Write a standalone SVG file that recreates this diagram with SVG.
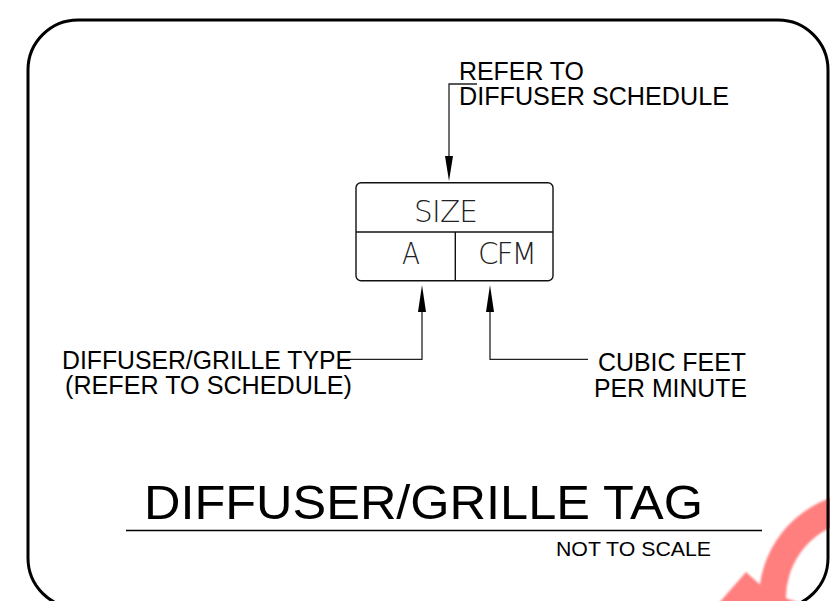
<svg xmlns="http://www.w3.org/2000/svg" width="830" height="601" viewBox="0 0 830 601">
<style>
.lbl{font-family:"Liberation Sans",Arial,sans-serif;font-size:25px;fill:#000}
.box{font-family:"DejaVu Sans ExtraLight","DejaVu Sans","Liberation Sans",sans-serif;font-weight:200;font-size:29.5px;fill:#222}
.ld{fill:none;stroke:#222;stroke-width:1.3}
.ah{fill:#000}
</style>
<defs>
<filter id="soft" x="-10%" y="-10%" width="120%" height="120%"><feGaussianBlur stdDeviation="0.8"/></filter>
</defs>
<rect width="830" height="601" fill="#fff"/>
<g id="watermark" filter="url(#soft)" fill="#ff7f7f" stroke="none">
<path d="M 845 494 A 107 107 0 0 0 759 603 L 786 603 A 79 79 0 0 1 845 522 Z"/>
<polygon points="719,603 746,572 768,592 800,603"/>
</g>
<rect id="frame" x="28" y="20" width="800" height="588" rx="50" ry="50" fill="none" stroke="#000" stroke-width="3"/>
<g id="tag">
<rect x="356" y="182.7" width="197" height="98" rx="5" ry="5" fill="none" stroke="#111" stroke-width="1.4"/>
<line x1="356" y1="232" x2="553" y2="232" stroke="#111" stroke-width="1.4"/>
<line x1="455.3" y1="232" x2="455.3" y2="280.7" stroke="#111" stroke-width="1.4"/>
<text class="box" x="414" y="221.7" textLength="64" lengthAdjust="spacing">SIZE</text>
<text class="box" x="402" y="264" textLength="18" lengthAdjust="spacingAndGlyphs">A</text>
<text class="box" x="478" y="264" textLength="59" lengthAdjust="spacing">CFM</text>
</g>
<g id="connectors">
<polyline class="ld" points="477,84 449,84 449,160"/>
<polygon class="ah" points="445,156 453,156 449,181"/>
<polyline class="ld" points="340,359.3 422,359.3 422,308"/>
<polygon class="ah" points="418,312 426,312 422,285"/>
<polyline class="ld" points="588,359.3 490,359.3 490,308"/>
<polygon class="ah" points="486,312 494,312 490,285"/>
<line x1="126" y1="530.5" x2="762" y2="530.5" stroke="#000" stroke-width="1.4"/>
</g>
<g id="label-schedule">
<text class="lbl" x="459" y="80" textLength="125" lengthAdjust="spacingAndGlyphs">REFER TO</text>
<text class="lbl" x="459" y="105" textLength="270" lengthAdjust="spacingAndGlyphs">DIFFUSER SCHEDULE</text>
</g>
<g id="label-type">
<text class="lbl" x="62" y="369" textLength="290" lengthAdjust="spacingAndGlyphs">DIFFUSER/GRILLE TYPE</text>
<text class="lbl" x="65" y="394" textLength="287" lengthAdjust="spacingAndGlyphs">(REFER TO SCHEDULE)</text>
</g>
<g id="label-cfm">
<text class="lbl" x="598" y="371" textLength="148" lengthAdjust="spacingAndGlyphs">CUBIC FEET</text>
<text class="lbl" x="594" y="397" textLength="153" lengthAdjust="spacingAndGlyphs">PER MINUTE</text>
</g>
<g id="title">
<text x="144" y="519" style="font-family:'Liberation Sans',Arial,sans-serif;font-size:49px" textLength="559" lengthAdjust="spacingAndGlyphs">DIFFUSER/GRILLE TAG</text>
<text x="556" y="556" style="font-family:'Liberation Sans',Arial,sans-serif;font-size:21px" textLength="155" lengthAdjust="spacingAndGlyphs">NOT TO SCALE</text>
</g>
</svg>
